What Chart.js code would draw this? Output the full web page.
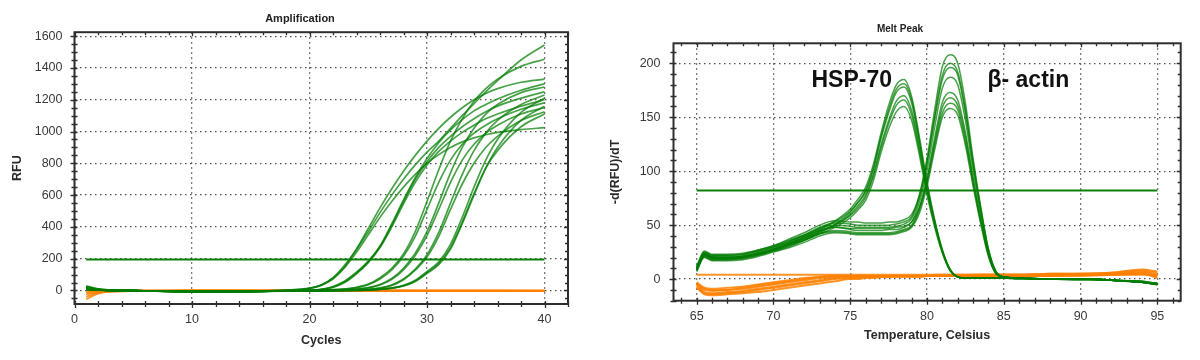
<!DOCTYPE html>
<html>
<head>
<meta charset="utf-8">
<script src="https://cdn.jsdelivr.net/npm/chart.js@4.4.1/dist/chart.umd.min.js"></script>
<style>
  body { margin: 0; background: #fff; width: 1200px; height: 360px; overflow: hidden; }
  .panel { position: absolute; top: 0; width: 600px; height: 360px; }
</style>
</head>
<body>
<div class="panel" style="left:0"><canvas id="ampChart" width="600" height="360"></canvas></div>
<div class="panel" style="left:600px"><canvas id="meltChart" width="600" height="360"></canvas></div>
<script>
// ---- Amplification data (RFU per cycle) ----
const ampCycles = [1, 2, 3, 5, 10, 15, 18, 20, 21, 22, 23, 24, 25, 26, 27, 28, 29, 30, 31, 32, 33, 34, 35, 36, 38, 40];
const ampGreen = [
    [30, 10, 3, 0, -6, -5, 2, 15, 35, 80, 160, 260, 370, 490, 600, 700, 790, 870, 940, 1020, 1100, 1175, 1250, 1320, 1450, 1545],
    [20, 8, 2, 0, -6, -5, 2, 14, 35, 78, 150, 260, 390, 520, 640, 750, 850, 940, 1020, 1090, 1150, 1200, 1240, 1270, 1310, 1330],
    [10, 5, 0, -2, -8, -7, 0, 12, 32, 72, 145, 240, 350, 460, 560, 650, 730, 800, 855, 900, 935, 960, 980, 995, 1012, 1025],
    [25, 8, 2, 0, -6, -6, -2, 2, 8, 25, 60, 115, 185, 280, 420, 570, 710, 830, 930, 1010, 1075, 1130, 1170, 1205, 1260, 1300],
    [15, 6, 1, -1, -7, -6, -2, 2, 7, 22, 55, 110, 180, 275, 410, 560, 700, 810, 900, 970, 1030, 1080, 1125, 1160, 1210, 1250],
    [5, 3, 0, -1, -7, -6, -2, 1, 6, 20, 50, 105, 175, 270, 400, 545, 680, 790, 875, 940, 995, 1040, 1080, 1110, 1160, 1200],
    [20, 6, 1, 0, -6, -5, -3, -1, 2, 5, 10, 20, 40, 80, 140, 230, 370, 560, 760, 940, 1080, 1190, 1270, 1330, 1410, 1455],
    [12, 5, 0, -1, -7, -6, -3, -1, 1, 4, 9, 18, 36, 72, 130, 215, 340, 510, 680, 820, 920, 990, 1040, 1080, 1140, 1180],
    [18, 6, 1, 0, -6, -6, -4, -2, 0, 2, 4, 8, 18, 38, 75, 140, 235, 370, 550, 740, 900, 1020, 1110, 1170, 1245, 1280],
    [8, 4, 0, -1, -7, -6, -4, -2, 0, 1, 3, 7, 16, 35, 70, 130, 220, 345, 510, 680, 820, 920, 990, 1040, 1110, 1150],
    [22, 7, 1, 0, -6, -6, -4, -3, -2, 0, 1, 3, 7, 16, 35, 72, 135, 225, 365, 550, 730, 880, 990, 1070, 1170, 1230],
    [10, 4, 0, -1, -7, -6, -4, -3, -2, 0, 1, 2, 6, 14, 32, 68, 128, 210, 340, 510, 670, 800, 900, 970, 1070, 1125],
    [15, 5, 1, 0, -6, -6, -4, -3, -2, -1, 0, 1, 3, 8, 16, 32, 65, 120, 180, 290, 460, 650, 820, 950, 1120, 1210],
    [6, 3, 0, -1, -7, -6, -4, -3, -2, -1, 0, 1, 3, 7, 15, 30, 60, 112, 170, 270, 430, 610, 770, 880, 1030, 1110],
    [3, 2, 0, -1, -7, -6, -4, -3, -2, -1, 0, 1, 2, 7, 14, 28, 57, 108, 162, 260, 420, 600, 770, 900, 1070, 1160]
];
const ampOrangeCycles = [1, 2, 3, 5, 10, 20, 30, 40];
const ampOrange = [
    [-55, -20, -8, -3, -2, -2, -3, -3],
    [-40, -15, -6, -3, -2, -2, -2, -3],
    [-25, -10, -5, -2, -2, -1, -2, -2],
    [-15, -7, -4, -2, -1, -1, -2, -2],
    [-8, -5, -3, -2, -1, -1, -1, -2],
    [0, -2, -2, -1, -1, -1, -1, -1],
    [8, 2, -1, -1, 0, -1, -1, -1],
    [15, 5, 0, -1, 0, 0, -1, -1]
];
const ampThresholdCycles = [1, 40];
const ampThreshold = [195, 195];

// ---- Melt peak data (-d(RFU)/dT per temperature) ----
const meltTemps = [65, 65.5, 66, 67, 68, 69, 70, 71, 72, 73, 74, 75, 75.5, 76, 76.5, 77, 77.5, 78, 78.5, 79,
    79.5, 80, 80.5, 81, 81.5, 82, 82.5, 83, 83.5, 84, 84.5, 85, 86, 88, 90, 92, 94, 95];
const meltHsp70 = [
    [12, 26, 23, 23, 24, 27, 31, 36, 41, 47, 54, 65, 74, 85, 106, 135, 161, 180, 185, 169, 132, 90, 55, 27, 9, 2, 1, 1, 1, 1, 1, 1, 1, 0, 0, -1, -3, -5],
    [9, 23, 21, 20, 21, 24, 28, 33, 38, 44, 51, 62, 71, 82, 103, 132, 157, 176, 181, 166, 129, 88, 54, 27, 9, 2, 1, 1, 1, 1, 1, 1, 1, 0, 0, -1, -3, -4],
    [11, 25, 22, 22, 23, 26, 30, 35, 40, 46, 53, 63, 71, 81, 101, 130, 154, 173, 178, 163, 127, 86, 53, 26, 9, 2, 1, 1, 1, 1, 1, 1, 1, 0, 0, -1, -2, -4],
    [8, 22, 19, 19, 20, 23, 27, 32, 37, 43, 50, 60, 68, 78, 97, 124, 147, 165, 170, 156, 122, 83, 51, 25, 8, 2, 1, 1, 1, 1, 1, 1, 0, 0, 0, -1, -3, -5],
    [10, 24, 20, 20, 21, 24, 28, 33, 38, 44, 50, 59, 66, 76, 95, 121, 144, 161, 166, 152, 119, 81, 50, 25, 8, 2, 1, 1, 1, 1, 1, 1, 1, 0, 0, -1, -3, -4],
    [9, 21, 18, 18, 19, 22, 26, 31, 36, 42, 48, 57, 64, 73, 91, 117, 139, 155, 160, 147, 115, 78, 48, 24, 8, 2, 1, 1, 1, 1, 1, 1, 0, 0, -1, -1, -3, -5]
];
const meltActin = [
    [10, 24, 21, 21, 22, 26, 30, 35, 41, 48, 52, 51, 50, 50, 50, 50, 50, 51, 53, 58, 78, 112, 157, 197, 208, 200, 163, 112, 67, 28, 7, 2, 1, 0, 0, -1, -3, -5],
    [9, 23, 20, 20, 21, 25, 29, 34, 40, 47, 50, 49, 48, 48, 48, 48, 48, 49, 51, 56, 75, 108, 151, 189, 200, 192, 157, 108, 65, 27, 7, 2, 1, 0, 0, -1, -3, -4],
    [11, 25, 22, 22, 23, 27, 31, 37, 43, 50, 54, 53, 53, 52, 52, 52, 53, 53, 55, 60, 77, 108, 149, 185, 196, 189, 154, 106, 64, 27, 6, 2, 1, 0, 0, -1, -2, -4],
    [8, 22, 19, 19, 20, 23, 27, 32, 38, 45, 48, 46, 45, 45, 45, 45, 46, 46, 48, 53, 71, 101, 141, 177, 187, 180, 147, 101, 61, 25, 6, 2, 1, 0, 0, -1, -3, -5],
    [7, 21, 18, 18, 19, 22, 26, 30, 36, 42, 45, 44, 43, 43, 43, 43, 43, 44, 46, 50, 66, 94, 131, 164, 173, 166, 136, 94, 56, 23, 5, 2, 1, 0, 0, -1, -3, -4],
    [9, 22, 19, 19, 20, 23, 27, 31, 36, 42, 44, 43, 42, 42, 42, 42, 42, 43, 45, 49, 64, 91, 127, 159, 168, 161, 132, 91, 55, 23, 5, 2, 1, 0, 0, -1, -3, -5],
    [10, 23, 20, 20, 21, 24, 28, 33, 39, 45, 48, 47, 47, 47, 47, 47, 47, 48, 49, 53, 66, 90, 124, 154, 163, 157, 128, 89, 53, 22, 5, 2, 1, 0, 0, -1, -2, -4],
    [8, 20, 17, 17, 18, 21, 25, 29, 34, 40, 43, 42, 41, 41, 41, 41, 41, 42, 44, 48, 61, 86, 120, 150, 158, 152, 124, 86, 51, 21, 5, 2, 1, 0, 0, -1, -3, -5]
];
const meltOrange = [
    [-3, -8, -9, -8, -7, -5, -3, -1, 1, 2, 3, 3, 3, 3, 3, 3, 3, 3, 3, 3, 3, 3, 3, 3, 3, 3, 3, 4, 4, 4, 4, 4, 4, 5, 5, 6, 8, 6],
    [-5, -10, -11, -10, -9, -7, -5, -3, -1, 1, 2, 3, 3, 3, 3, 3, 3, 3, 3, 3, 3, 3, 3, 3, 3, 3, 3, 3, 4, 4, 4, 4, 4, 4, 5, 5, 7, 4],
    [-6, -12, -13, -12, -11, -9, -7, -5, -3, -1, 1, 2, 2, 2, 3, 3, 3, 3, 3, 3, 3, 3, 3, 3, 3, 3, 3, 3, 3, 3, 3, 3, 3, 4, 4, 5, 6, 3],
    [-7, -13, -14, -13, -12, -10, -8, -6, -4, -2, 0, 1, 1, 2, 2, 2, 2, 3, 3, 3, 3, 3, 3, 3, 3, 3, 3, 3, 3, 3, 3, 3, 3, 3, 4, 4, 5, 2],
    [-8, -14, -15, -14, -13, -12, -10, -8, -6, -4, -2, 0, 0, 1, 1, 2, 2, 2, 2, 2, 2, 3, 3, 3, 3, 3, 3, 3, 3, 3, 3, 3, 3, 3, 3, 4, 5, 1],
    [-4, -9, -10, -10, -8, -6, -4, -2, 0, 2, 3, 3, 3, 3, 3, 3, 3, 3, 3, 3, 3, 3, 4, 4, 4, 4, 4, 4, 4, 4, 4, 4, 4, 5, 5, 6, 9, 7]
];
const meltFlatTemps = [65, 95];
const meltFlat = [4, 4];
const meltThresholdTemps = [65, 95];
const meltThreshold = [82, 82];
const peakNames = ['HSP-70', 'β- actin'];

const FONT = '"Liberation Sans", Arial, sans-serif';
const GREEN = 'rgba(0, 125, 0, 0.72)';
const ORANGE = 'rgba(255, 128, 0, 0.85)';

function toPoints(xs, ys) {
    return xs.map((x, i) => ({ x: x, y: ys[i] }));
}

function curve(xs, ys, color, width, tension) {
    return {
        data: toPoints(xs, ys),
        borderColor: color,
        borderWidth: width,
        pointRadius: 0,
        fill: false,
        tension: tension,
        cubicInterpolationMode: tension ? 'monotone' : 'default'
    };
}

// frame around the plot area plus the small tick marks on all four sides
const frameTicks = {
    id: 'frameTicks',
    afterDraw(chart) {
        const { ctx, chartArea: a, scales: { x, y } } = chart;
        ctx.save();
        ctx.strokeStyle = '#2e2e2e';
        ctx.lineWidth = 1.3;
        ctx.beginPath();
        x.ticks.forEach(t => {
            const px = Math.round(x.getPixelForValue(t.value)) + 0.5;
            const len = t.label !== '' ? 4 : 3;
            ctx.moveTo(px, a.bottom - 3); ctx.lineTo(px, a.bottom + len);
            ctx.moveTo(px, a.top); ctx.lineTo(px, a.top + len);
        });
        y.ticks.forEach(t => {
            const py = Math.round(y.getPixelForValue(t.value)) + 0.5;
            const len = t.label !== '' ? 4 : 3;
            ctx.moveTo(a.left - len, py); ctx.lineTo(a.left + 3, py);
            ctx.moveTo(a.right - len, py); ctx.lineTo(a.right, py);
        });
        ctx.stroke();
        ctx.lineWidth = 2;
        ctx.strokeRect(a.left, a.top, a.right - a.left, a.bottom - a.top);
        ctx.restore();
    }
};

const peakLabels = {
    id: 'peakLabels',
    afterDatasetsDraw(chart) {
        const { ctx, scales: { x, y } } = chart;
        ctx.save();
        ctx.font = 'bold 23px ' + FONT;
        ctx.fillStyle = '#111';
        ctx.textAlign = 'center';
        ctx.textBaseline = 'middle';
        ctx.fillText(peakNames[0], x.getPixelForValue(75.1), y.getPixelForValue(184));
        ctx.fillText(peakNames[1], x.getPixelForValue(86.6), y.getPixelForValue(184));
        ctx.restore();
    }
};

function gridColor(major) {
    return ctx => (ctx.tick && Math.abs(ctx.tick.value % major) < 1e-6) ? '#505050' : 'rgba(0,0,0,0)';
}

function axisX(min, max, step, major, titleText, titlePad, height) {
    return {
        type: 'linear', min: min, max: max,
        afterFit(s) { s.height = height; },
        border: { display: false, dash: [1.5, 3.5] },
        grid: { color: gridColor(major), lineWidth: 1.3, drawTicks: false },
        ticks: {
            stepSize: step, includeBounds: false, autoSkip: false, maxRotation: 0, padding: 8.5,
            color: '#3a3a3a', font: { family: FONT, size: 12.5 },
            callback: v => (v % major === 0 ? v : '')
        },
        title: { display: true, text: titleText, color: '#2a2a2a', font: { family: FONT, size: 12.5, weight: 'bold' }, padding: { top: 0, bottom: titlePad } }
    };
}

function axisY(min, max, step, major, titleText, titlePad, width, labelPad) {
    return {
        type: 'linear', min: min, max: max,
        afterFit(s) { s.width = width; },
        border: { display: false, dash: [1.5, 3.5] },
        grid: { color: gridColor(major), lineWidth: 1.3, drawTicks: false },
        ticks: {
            stepSize: step, includeBounds: false, autoSkip: false, padding: labelPad,
            color: '#3a3a3a', font: { family: FONT, size: 12.5 },
            callback: v => (v % major === 0 ? v : '')
        },
        title: { display: true, text: titleText, color: '#2a2a2a', font: { family: FONT, size: 12.5, weight: 'bold' }, padding: { top: titlePad, bottom: 0 } }
    };
}

// empty right-hand axis that only reserves space, so the title stays centred on the canvas
function spacer(width) {
    return {
        type: 'linear', position: 'right', display: true,
        afterFit(s) { s.width = width; },
        border: { display: false },
        grid: { display: false, drawTicks: false },
        ticks: { display: false }
    };
}

// ---- Amplification chart ----
const ampSets = [];
ampGreen.forEach(ys => ampSets.push(curve(ampCycles, ys, GREEN, 1.7, 0.4)));
ampSets.push(curve(ampThresholdCycles, ampThreshold, '#0a800a', 2, 0));
ampOrange.forEach(ys => ampSets.push(curve(ampOrangeCycles, ys, ORANGE, 1.8, 0.4)));

new Chart(document.getElementById('ampChart'), {
    type: 'line',
    data: { datasets: ampSets },
    plugins: [frameTicks],
    options: {
        responsive: false,
        animation: false,
        devicePixelRatio: 1,
        layout: { padding: 0 },
        plugins: {
            legend: { display: false },
            tooltip: { enabled: false },
            title: {
                display: true, text: 'Amplification', color: '#222',
                font: { family: FONT, size: 11, weight: 'bold' },
                padding: { top: 12, bottom: 7 }
            }
        },
        scales: {
            x: axisX(0, 42, 2, 10, 'Cycles', 12, 56),
            y: axisY(-85, 1625, 50, 200, 'RFU', 10, 74.5, 12),
            pad: spacer(32)
        }
    }
});

// ---- Melt peak chart ----
const meltSets = [];
meltHsp70.forEach(ys => meltSets.push(curve(meltTemps, ys, GREEN, 1.5, 0.25)));
meltActin.forEach(ys => meltSets.push(curve(meltTemps, ys, GREEN, 1.5, 0.25)));
meltSets.push(curve(meltThresholdTemps, meltThreshold, '#0a800a', 2, 0));
meltSets.push(curve(meltFlatTemps, meltFlat, ORANGE, 2, 0));
meltOrange.forEach(ys => meltSets.push(curve(meltTemps, ys, ORANGE, 2, 0.25)));

new Chart(document.getElementById('meltChart'), {
    type: 'line',
    data: { datasets: meltSets },
    plugins: [frameTicks, peakLabels],
    options: {
        responsive: false,
        animation: false,
        devicePixelRatio: 1,
        layout: { padding: 0 },
        plugins: {
            legend: { display: false },
            tooltip: { enabled: false },
            title: {
                display: true, text: 'Melt Peak', color: '#222',
                font: { family: FONT, size: 10, weight: 'bold' },
                padding: { top: 23.3, bottom: 8 }
            }
        },
        scales: {
            x: axisX(63.49, 96.52, 1, 5, 'Temperature, Celsius', 16.8, 59.3),
            y: axisY(-20, 218.5, 10, 50, '-d(RFU)/dT', 8, 73.5, 13),
            pad: spacer(19.3)
        }
    }
});
</script>
</body>
</html>
